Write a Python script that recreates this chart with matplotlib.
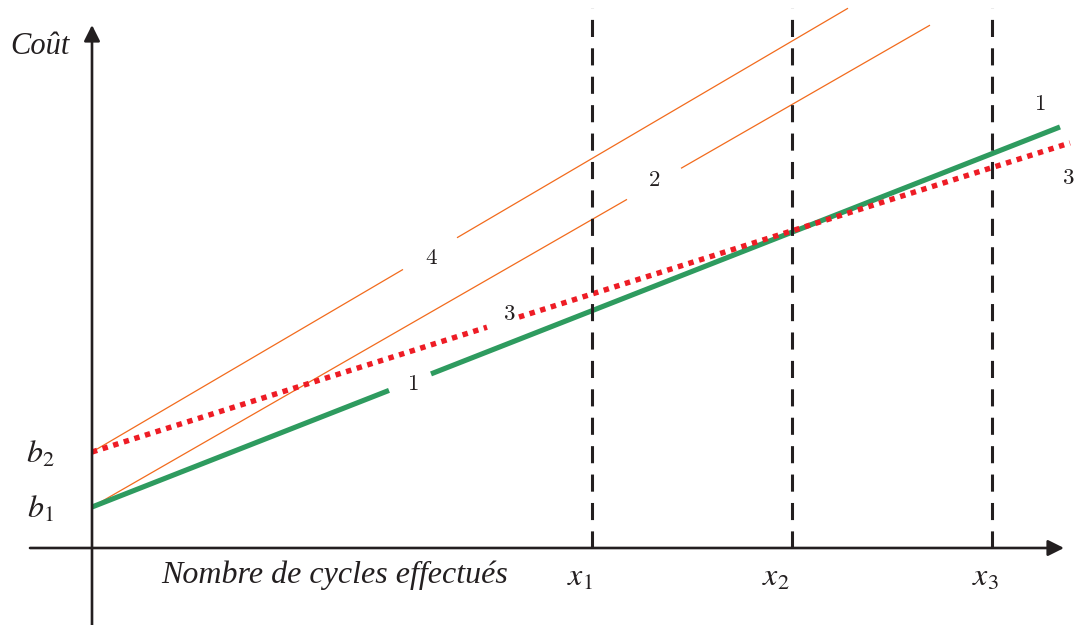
import numpy as np
import matplotlib
matplotlib.use("Agg")
import matplotlib.pyplot as plt

# ---- data (1 unit = 100 px) ----
x_marks = [5.0, 7.0, 9.0]
x_labels = [r"$x_1$", r"$x_2$", r"$x_3$"]
b_values = [0.41, 0.96]
b_labels = [r"$b_1$", r"$b_2$"]

line_names = ["1", "2", "3", "4"]
line_intercepts = [0.41, 0.41, 0.96, 0.96]
line_slopes = [0.3926, 0.575, 0.316, 0.587]
line_xend = [9.68, 8.38, 9.78, 7.56]
line_gaps = [(2.97, 3.39), (5.35, 5.89), (3.95, 4.27), (3.11, 3.65)]
label_pos = [(3.21, 1.64), (5.62, 3.68), (4.17, 2.35), (3.39, 2.90)]
end_labels = [("1", 9.48, 4.44), ("3", 9.76, 3.70)]

colors = {"1": "#2e9b5f", "2": "#f26b1d", "3": "#ee1c25", "4": "#f26b1d"}
widths = {"1": 3.7, "2": 0.9, "3": 3.9, "4": 0.9}
styles = {"1": "-", "2": "-", "3": (0, (1, 1.05)), "4": "-"}
zorders = {"1": 3, "2": 2, "3": 4, "4": 2}

fig = plt.figure(figsize=(10.74, 6.25), dpi=100)
ax = fig.add_axes([0, 0, 1, 1])
ax.set_xlim(-0.92, 9.82)
ax.set_ylim(-0.77, 5.48)
ax.axis("off")

axis_color = "#231f20"

# vertical dashed lines
for xm in x_marks:
    ax.plot([xm, xm], [0, 5.40], color=axis_color, lw=2.2,
            linestyle=(0, (5.6, 3.7)), zorder=5)

# cost lines with gaps
for name, b, a, xe, gap in zip(line_names, line_intercepts, line_slopes,
                                line_xend, line_gaps):
    for x0, x1 in [(0, gap[0]), (gap[1], xe)]:
        xs = np.array([x0, x1])
        ax.plot(xs, b + a * xs, color=colors[name], lw=widths[name],
                linestyle=styles[name], zorder=zorders[name],
                solid_capstyle="butt", dash_capstyle="butt")

for name, (lx, ly) in zip(line_names, label_pos):
    ax.text(lx, ly, "$" + name + "$", math_fontfamily="cm", fontsize=16.5,
            ha="center", va="center", color="#231f20")
for name, lx, ly in end_labels:
    ax.text(lx, ly, "$" + name + "$", math_fontfamily="cm", fontsize=16.5,
            ha="center", va="center", color="#231f20")

# axes with arrows
ax.annotate("", xy=(9.72, 0), xytext=(-0.62, 0),
            arrowprops=dict(arrowstyle="-|>", lw=1.9, color=axis_color,
                            mutation_scale=24, shrinkA=0, shrinkB=0), zorder=6)
ax.annotate("", xy=(0, 5.23), xytext=(0, -0.80),
            arrowprops=dict(arrowstyle="-|>", lw=1.9, color=axis_color,
                            mutation_scale=24, shrinkA=0, shrinkB=0), zorder=6)

# texts
ax.text(-0.52, 5.01, "Coût", family="Liberation Serif", style="italic",
        fontsize=22, ha="center", va="center", color="#231f20")
ax.text(2.43, -0.27, "Nombre de cycles effectués", family="Liberation Serif",
        style="italic", fontsize=23, ha="center", va="center", color="#231f20")
x_label_shift = [-0.12, -0.16, -0.07]
for xm, lab, dx in zip(x_marks, x_labels, x_label_shift):
    ax.text(xm + dx, -0.29, lab, math_fontfamily="stix", fontsize=23,
            ha="center", va="center", color="#231f20")
for bv, lab in zip(b_values, b_labels):
    ax.text(-0.52, bv - 0.02, lab, math_fontfamily="stix", fontsize=23,
            ha="center", va="center", color="#231f20")

fig.savefig("out.png", dpi=100)
